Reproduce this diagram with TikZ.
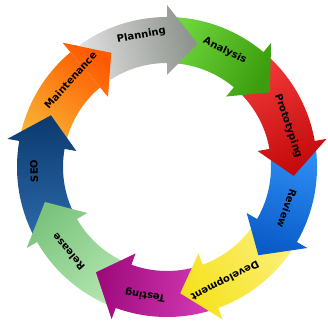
\documentclass[tikz,border=0pt]{standalone}
\usepackage{fontspec}
\setsansfont{DejaVu Sans}
\definecolor{PlT}{HTML}{E4E4E4}\definecolor{PlH}{HTML}{8C928C}
\definecolor{AnT}{HTML}{6FD63C}\definecolor{AnH}{HTML}{3C9E0E}
\definecolor{PrT}{HTML}{F23A3A}\definecolor{PrH}{HTML}{C40A0A}
\definecolor{RvT}{HTML}{2F8FF5}\definecolor{RvH}{HTML}{0A5CC8}
\definecolor{DeT}{HTML}{FBF07A}\definecolor{DeH}{HTML}{F6E21E}
\definecolor{TeT}{HTML}{D63CB8}\definecolor{TeH}{HTML}{9E0A7C}
\definecolor{ReT}{HTML}{B4E6B0}\definecolor{ReH}{HTML}{7CC47E}
\definecolor{SeT}{HTML}{2D6AAC}\definecolor{SeH}{HTML}{0B3A6E}
\definecolor{MaT}{HTML}{F9B233}\definecolor{MaH}{HTML}{FF5A00}
\begin{document}
\begin{tikzpicture}[x=1pt,y=1pt,
  lbl/.style={font=\sffamily\bfseries\fontsize{10}{12}\selectfont, text=black, inner sep=0pt}]
\useasboundingbox (0,0) rectangle (328,326);
\def\Ro{150}\def\Ri{104}\def\Rm{127}\def\Rho{162}\def\Rhi{92}
\begin{scope}[shift={(167,159)}]
\foreach \t/\tc/\hc in {-244/MaT/MaH, -204/SeT/SeH, -164/ReT/ReH, -124/TeT/TeH, -84/DeT/DeH, -44/RvT/RvH, -4/PrT/PrH, 36/AnT/AnH, 76/PlT/PlH}{
  \pgfmathsetmacro\mA{\t+27}
  \pgfmathsetmacro\bA{\t+14}\pgfmathsetmacro\sA{\t+54}
  \shade[top color=\tc, bottom color=\hc, shading angle=\mA]
    (\sA:\Ro) arc[start angle=\sA, end angle=\bA, radius=\Ro] -- (\bA:\Rho) -- (\t:\Rm) -- (\bA:\Rhi) -- (\bA:\Ri) arc[start angle=\bA, end angle=\sA, radius=\Ri] -- cycle;
}
% Maintenance head over Planning tail
\begin{scope}
  \clip (-230:\Rho+1) -- (-244.3:\Rm) -- (-230:\Rhi-1) -- cycle;
  \shade[top color=MaT, bottom color=MaH, shading angle=-217]
    (-190:\Ro) arc[start angle=-190, end angle=-230, radius=\Ro] -- (-230:\Rho) -- (-244:\Rm) -- (-230:\Rhi) -- (-230:\Ri) arc[start angle=-230, end angle=-190, radius=\Ri] -- cycle;
\end{scope}
\node[lbl, rotate=11] (l0) at (101:134) {Planning};
\node[lbl, rotate=-26.4] (l1) at (63.6:130) {Analysis};
\node[lbl, rotate=-71.3] (l2) at (18.7:128) {Prototyping};
\node[lbl, rotate=-109] (l3) at (-19:127) {Review};
\node[lbl, rotate=-153] (l4) at (-63:127) {Development};
\node[lbl, rotate=-189.7] (l5) at (-99.7:130) {Testing};
\node[lbl, rotate=-229.3] (l6) at (-139.3:130) {Release};
\node[lbl, rotate=-268.3] (l7) at (-178.3:133) {SEO};
\node[lbl, rotate=48] (l8) at (138:130) {Maintenance};
\end{scope}
\end{tikzpicture}
\end{document}
